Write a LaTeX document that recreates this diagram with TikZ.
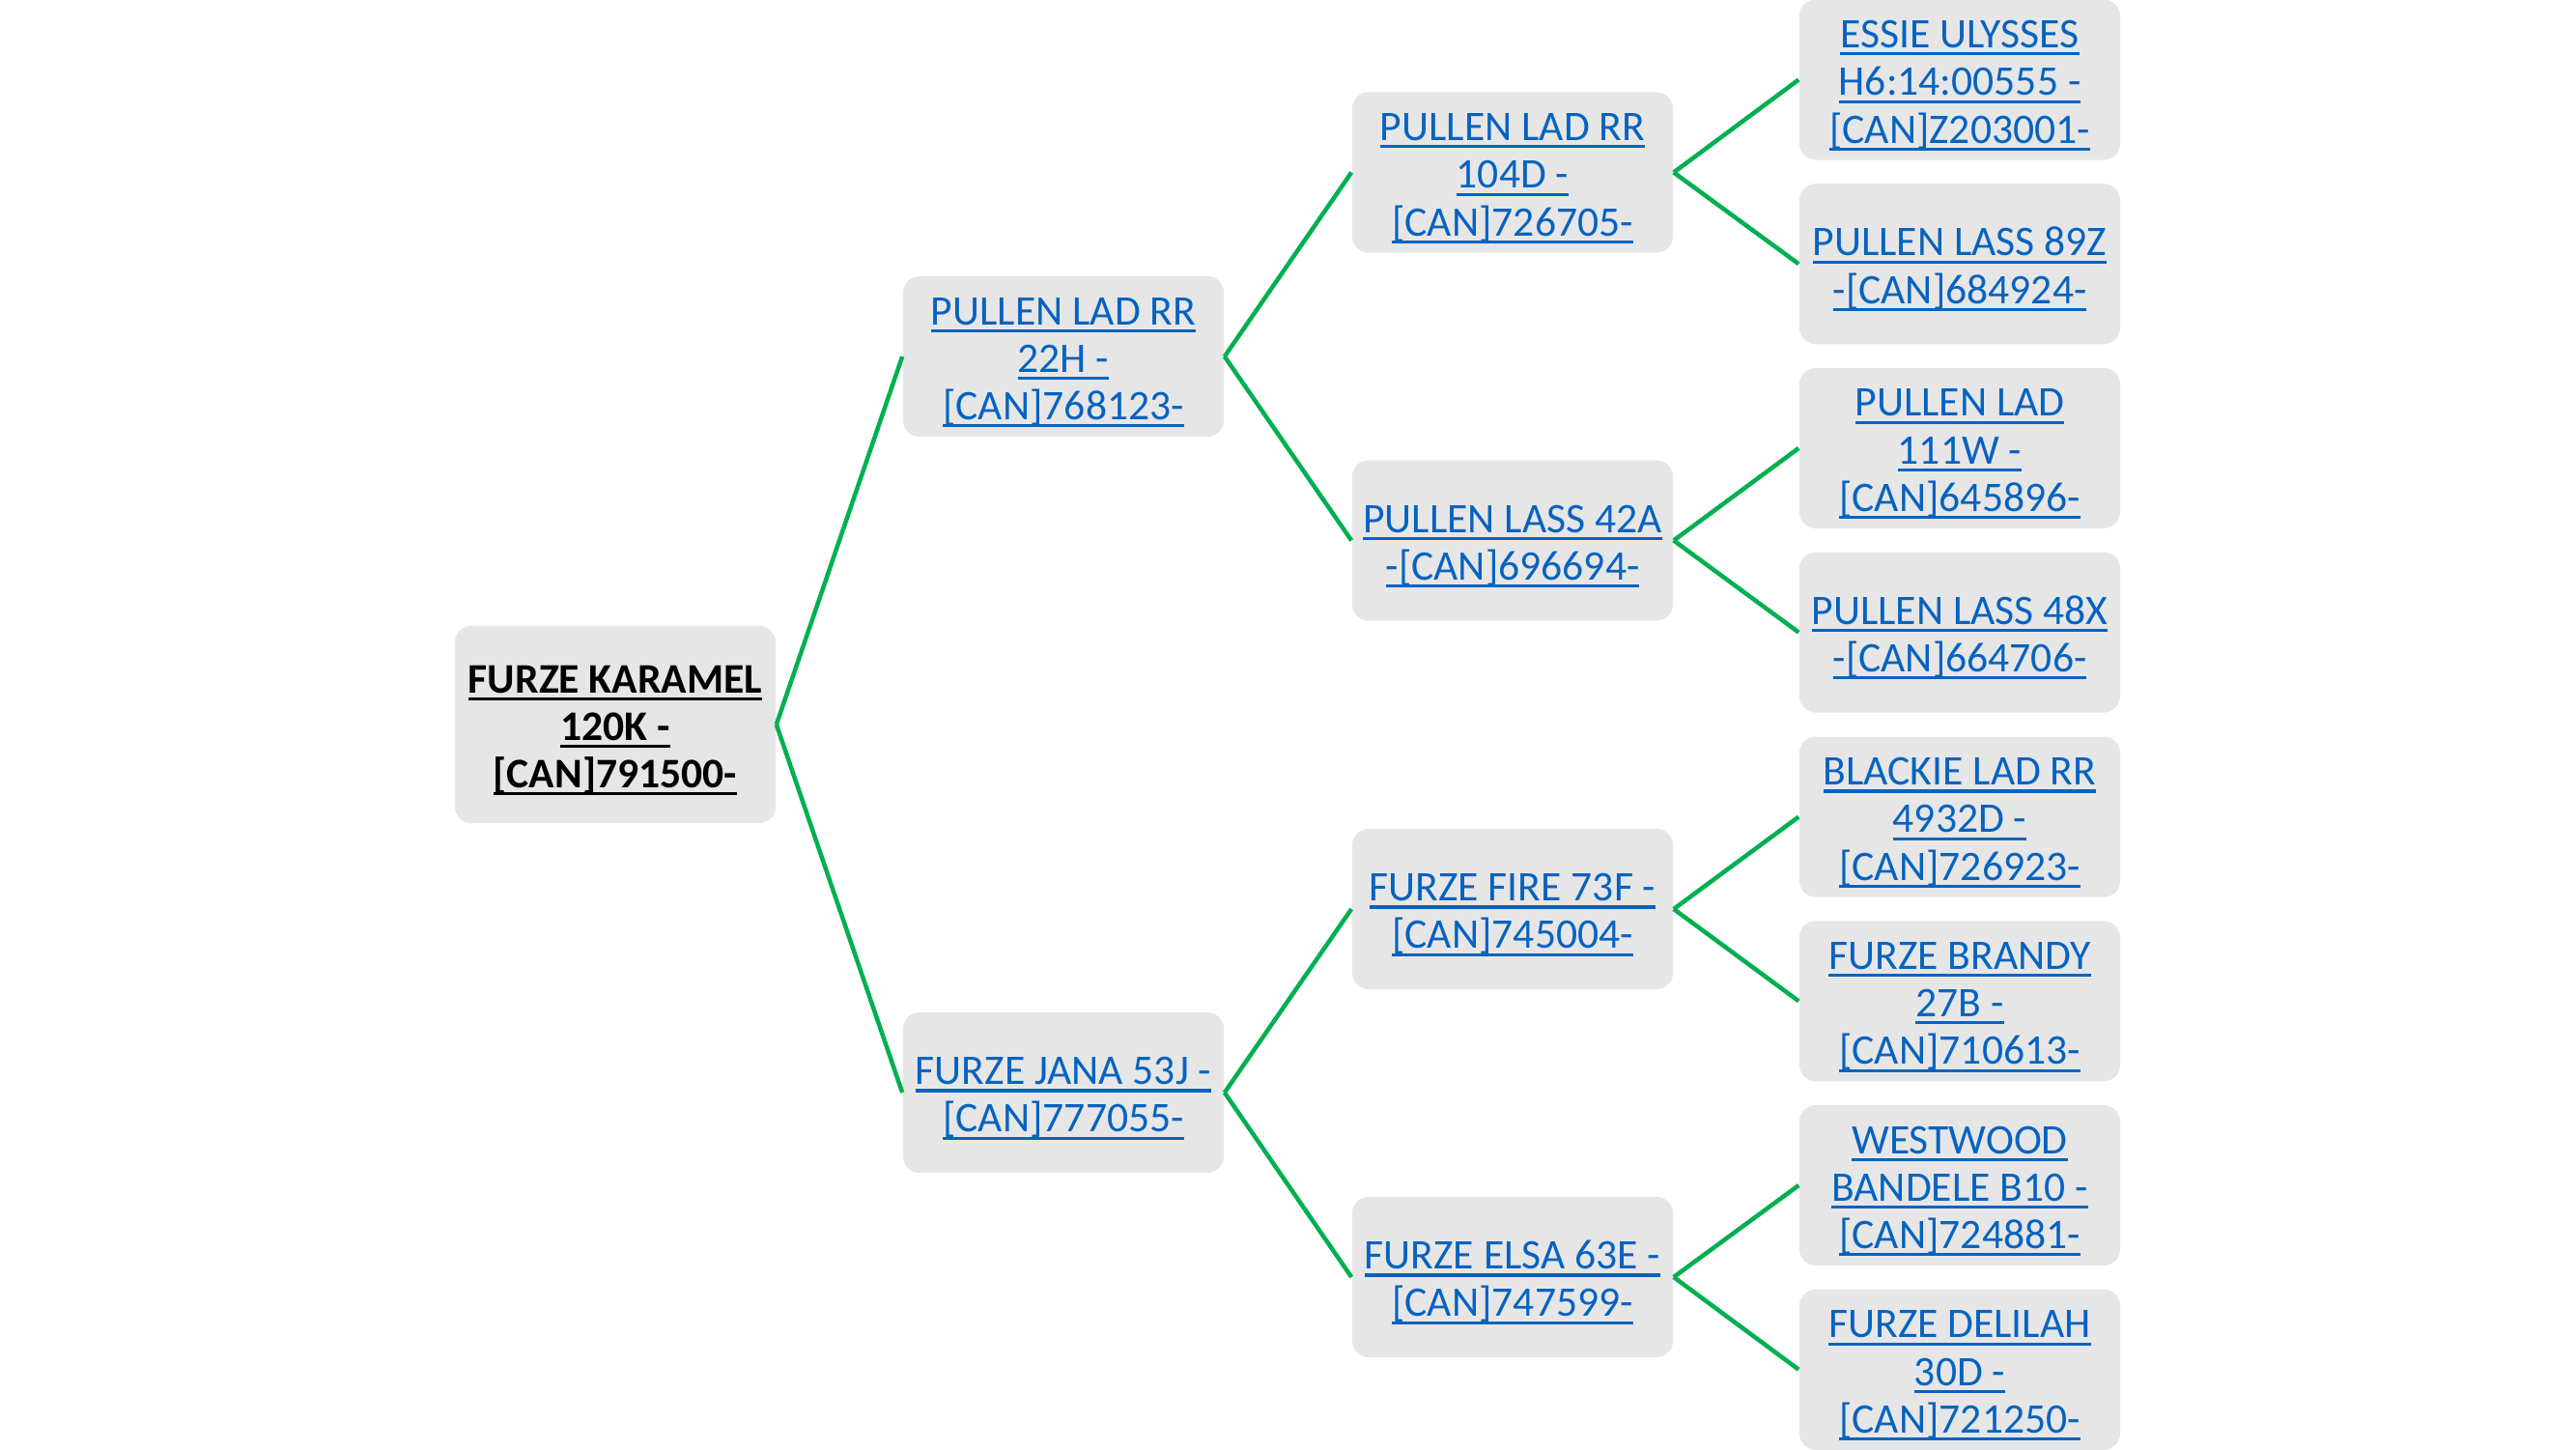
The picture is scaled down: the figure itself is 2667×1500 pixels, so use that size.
\documentclass[tikz,border=0pt]{standalone}
\usepackage{fontspec}
\setmainfont{Carlito}
\definecolor{linkblue}{HTML}{0563C1}
\definecolor{boxgrey}{HTML}{E7E6E6}
\definecolor{edgegreen}{HTML}{00B050}
\newcommand\myul[1]{\setbox0\hbox{#1}\rlap{\rule[-0.18em]{\wd0}{0.07em}}\box0}
\newcommand\fl{\rule{0pt}{11.5pt}}
\tikzset{
  pbox/.style={fill=boxgrey, rounded corners=0.17cm, minimum width=3.32cm,
    minimum height=1.66cm, inner sep=0pt, align=center, text=linkblue,
    font=\fontsize{12.4}{14}\selectfont},
  rootbox/.style={pbox, minimum height=2.04cm, text=black,
    font=\bfseries\fontsize{12.4}{14}\selectfont},
  link/.style={draw=edgegreen, line width=0.045cm}
}
\begin{document}
\begin{tikzpicture}[x=0.01cm,y=-0.01cm]
\useasboundingbox (0,0) rectangle (2667,1500);
\node[rootbox] (r) at (637,750) {\fl\myul{FURZE KARAMEL}\\\myul{120K -}\\\myul{[CAN]791500-}};
\node[pbox] (a) at (1101,369) {\fl\myul{PULLEN LAD RR}\\\myul{22H -}\\\myul{[CAN]768123-}};
\node[pbox] (b) at (1101,1131) {\fl\myul{FURZE JANA 53J -}\\\myul{[CAN]777055-}};
\node[pbox] (aa) at (1566,178.5) {\fl\myul{PULLEN LAD RR}\\\myul{104D -}\\\myul{[CAN]726705-}};
\node[pbox] (ab) at (1566,559.5) {\fl\myul{PULLEN LASS 42A}\\\myul{-[CAN]696694-}};
\node[pbox] (ba) at (1566,941) {\fl\myul{FURZE FIRE 73F -}\\\myul{[CAN]745004-}};
\node[pbox] (bb) at (1566,1322) {\fl\myul{FURZE ELSA 63E -}\\\myul{[CAN]747599-}};
\node[pbox] (aaa) at (2029,82.5) {\fl\myul{ESSIE ULYSSES}\\\myul{H6:14:00555 -}\\\myul{[CAN]Z203001-}};
\node[pbox] (aab) at (2029,273.2) {\fl\myul{PULLEN LASS 89Z}\\\myul{-[CAN]684924-}};
\node[pbox] (aba) at (2029,463.9) {\fl\myul{PULLEN LAD}\\\myul{111W -}\\\myul{[CAN]645896-}};
\node[pbox] (abb) at (2029,654.6) {\fl\myul{PULLEN LASS 48X}\\\myul{-[CAN]664706-}};
\node[pbox] (baa) at (2029,845.6) {\fl\myul{BLACKIE LAD RR}\\\myul{4932D -}\\\myul{[CAN]726923-}};
\node[pbox] (bab) at (2029,1036.3) {\fl\myul{FURZE BRANDY}\\\myul{27B -}\\\myul{[CAN]710613-}};
\node[pbox] (bba) at (2029,1227) {\fl\myul{WESTWOOD}\\\myul{BANDELE B10 -}\\\myul{[CAN]724881-}};
\node[pbox] (bbb) at (2029,1417.7) {\fl\myul{FURZE DELILAH}\\\myul{30D -}\\\myul{[CAN]721250-}};
\foreach \p/\c in {r/a,r/b,a/aa,a/ab,b/ba,b/bb,aa/aaa,aa/aab,ab/aba,ab/abb,ba/baa,ba/bab,bb/bba,bb/bbb}
  \draw[link] (\p.east) -- (\c.west);
\end{tikzpicture}
\end{document}
